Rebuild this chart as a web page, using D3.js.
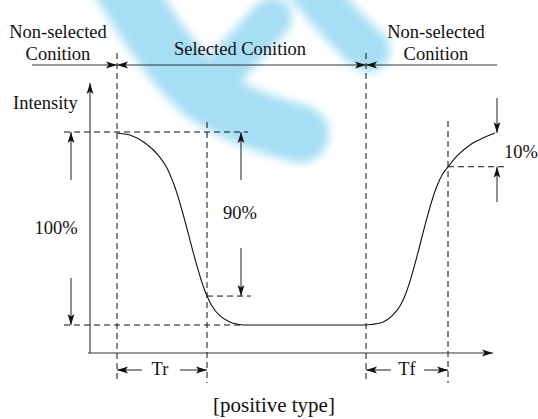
<!DOCTYPE html>
<html lang="en">
    <head>
        <meta charset="utf-8"/>
        <script src="https://d3js.org/d3.v7.min.js"></script>
        <style>
            body { margin: 0; background: #fff; }
        </style>
    </head>
    <body>
        <div id="chart"></div>
    </body>
    <script>
        // response time diagram, positive type

        // time (px offset from axis) and intensity (% of full swing)
        var fallTime = [27, 40, 55, 68, 77, 83, 117, 122, 130, 140, 153];
        var fallLevel = [99.5, 98.4, 94.3, 88.1, 81.3, 74.1, 15, 9.8, 4.7, 1.6, 0];
        var flatTime = [153, 276];
        var flatLevel = [0, 0];
        var riseTime = [276, 290, 302, 310, 314, 347, 352, 358, 368, 380, 393, 405];
        var riseLevel = [0, 1.0, 4.7, 9.8, 14.0, 72.0, 77.7, 81.9, 88.1, 93.3, 96.9, 99.5];

        // marker times: selection start, Tr end, selection end, Tf end
        var markTimes = [27, 117, 276, 358];
        var markNames = ["selStart", "trEnd", "selEnd", "tfEnd"];
        // reference levels: full, 90% point, 10% point, zero
        var levelValues = [100, 15, 82, 0];
        var levelNames = ["full", "p90", "p10", "zero"];

        var topLabels = ["Non-selected", "Conition", "Selected Conition", "Non-selected", "Conition"];
        var pctLabels = ["100%", "90%", "10%"];
        var timeLabels = ["Tr", "Tf"];
        var caption = "[positive type]";

        var width = 538, height = 419;

        var svg = d3.select("#chart")
            .append("svg")
                .attr("width", width)
                .attr("height", height);

        var x = d3.scaleLinear().domain([0, 400]).range([90, 490]);
        var y = d3.scaleLinear().domain([0, 100]).range([325, 132]);

        var T = {}, L = {};
        markNames.forEach(function (n, i) { T[n] = x(markTimes[i]); });
        levelNames.forEach(function (n, i) { L[n] = y(levelValues[i]); });

        // watermark
        var defs = svg.append("defs");
        defs.append("filter").attr("id", "blur")
            .attr("x", "-20%").attr("y", "-20%").attr("width", "140%").attr("height", "140%")
            .append("feGaussianBlur").attr("stdDeviation", 5);

        var wm = svg.append("g").attr("filter", "url(#blur)");
        var wmPaths = [
            {d: "M110,-35 C140,15 175,72 208,96 C242,118 272,126 300,134", w: 58},
            {d: "M205,92 C225,70 250,40 272,18", w: 40},
            {d: "M300,-25 C320,0 345,30 368,50", w: 44}
        ];
        wm.selectAll("path")
            .data(wmPaths)
            .enter()
            .append("path")
                .attr("d", function (d) { return d.d; })
                .attr("fill", "none")
                .attr("stroke", "#a6def5")
                .attr("stroke-width", function (d) { return d.w; })
                .attr("stroke-linecap", "round");

        defs.append("marker")
            .attr("id", "arr")
            .attr("viewBox", "0 -4 12 8")
            .attr("refX", 11)
            .attr("refY", 0)
            .attr("markerUnits", "userSpaceOnUse")
            .attr("markerWidth", 12)
            .attr("markerHeight", 8)
            .attr("orient", "auto")
            .append("path")
                .attr("d", "M0,-3.4 L11,0 L0,3.4 L2.5,0 Z")
                .attr("fill", "#111");

        function arrow(x1, y1, x2, y2) {
            svg.append("line")
                .attr("x1", x1).attr("y1", y1)
                .attr("x2", x2).attr("y2", y2)
                .attr("stroke", "#333")
                .attr("stroke-width", 1.1)
                .attr("marker-end", "url(#arr)");
        }

        function dashed(x1, y1, x2, y2) {
            svg.append("line")
                .attr("x1", x1).attr("y1", y1)
                .attr("x2", x2).attr("y2", y2)
                .attr("stroke", "#111")
                .attr("stroke-width", 1)
                .attr("stroke-dasharray", "6,4");
        }

        function label(txt, cx, by, anchor, size) {
            svg.append("text")
                .attr("x", cx).attr("y", by)
                .attr("text-anchor", anchor || "middle")
                .attr("font-family", "Liberation Serif")
                .attr("font-size", size || 18.5)
                .attr("fill", "#111")
                .text(txt);
        }

        // dashed guides
        dashed(T.selStart, 53, T.selStart, 383);
        dashed(T.selEnd, 53, T.selEnd, 383);
        dashed(T.trEnd, 122, T.trEnd, 383);
        dashed(T.tfEnd, 121, T.tfEnd, 383);
        dashed(64, L.full, 248, L.full);
        dashed(64, L.zero, x(153), L.zero);
        dashed(T.trEnd, L.p90, 251, L.p90);
        dashed(T.tfEnd, L.p10, 504, L.p10);

        // axes
        arrow(x(0), 353, x(0), 83);
        arrow(88, 353, 493, 353);

        // curve
        var line = d3.line()
            .x(function (d) { return x(d[0]); })
            .y(function (d) { return y(d[1]); })
            .curve(d3.curveMonotoneX);

        [[fallTime, fallLevel], [flatTime, flatLevel], [riseTime, riseLevel]].forEach(function (s) {
            svg.append("path")
                .datum(d3.zip(s[0], s[1]))
                .attr("d", line)
                .attr("fill", "none")
                .attr("stroke", "#111")
                .attr("stroke-width", 1.1);
        });

        // condition arrows
        var yTop = 65;
        arrow(32, yTop, T.selStart, yTop);
        arrow((T.selStart + T.selEnd) / 2, yTop, T.selStart, yTop);
        arrow((T.selStart + T.selEnd) / 2, yTop, T.selEnd, yTop);
        arrow(497, yTop, T.selEnd, yTop);

        label(topLabels[0], 58, 38);
        label(topLabels[1], 58, 60);
        label(topLabels[2], 240, 55);
        label(topLabels[3], 436, 38);
        label(topLabels[4], 436, 60);
        label("Intensity", 13, 109, "start");

        // percent arrows
        arrow(71, 180, 71, L.full);
        arrow(71, 278, 71, L.zero);
        label(pctLabels[0], 56, 234);

        arrow(241, 180, 241, L.full);
        arrow(241, 248, 241, L.p90);
        label(pctLabels[1], 240, 219);

        arrow(497, 98, 497, L.full + 1);
        arrow(497, 202, 497, L.p10);
        label(pctLabels[2], 504, 158, "start");

        // Tr / Tf
        var yT = 370;
        arrow(142, yT, T.selStart, yT);
        arrow(180, yT, T.trEnd, yT);
        label(timeLabels[0], 160, 375);
        arrow(391, yT, T.selEnd, yT);
        arrow(424, yT, T.tfEnd, yT);
        label(timeLabels[1], 407, 375);

        label(caption, 274, 412, "middle", 21);
    </script>
</html>
